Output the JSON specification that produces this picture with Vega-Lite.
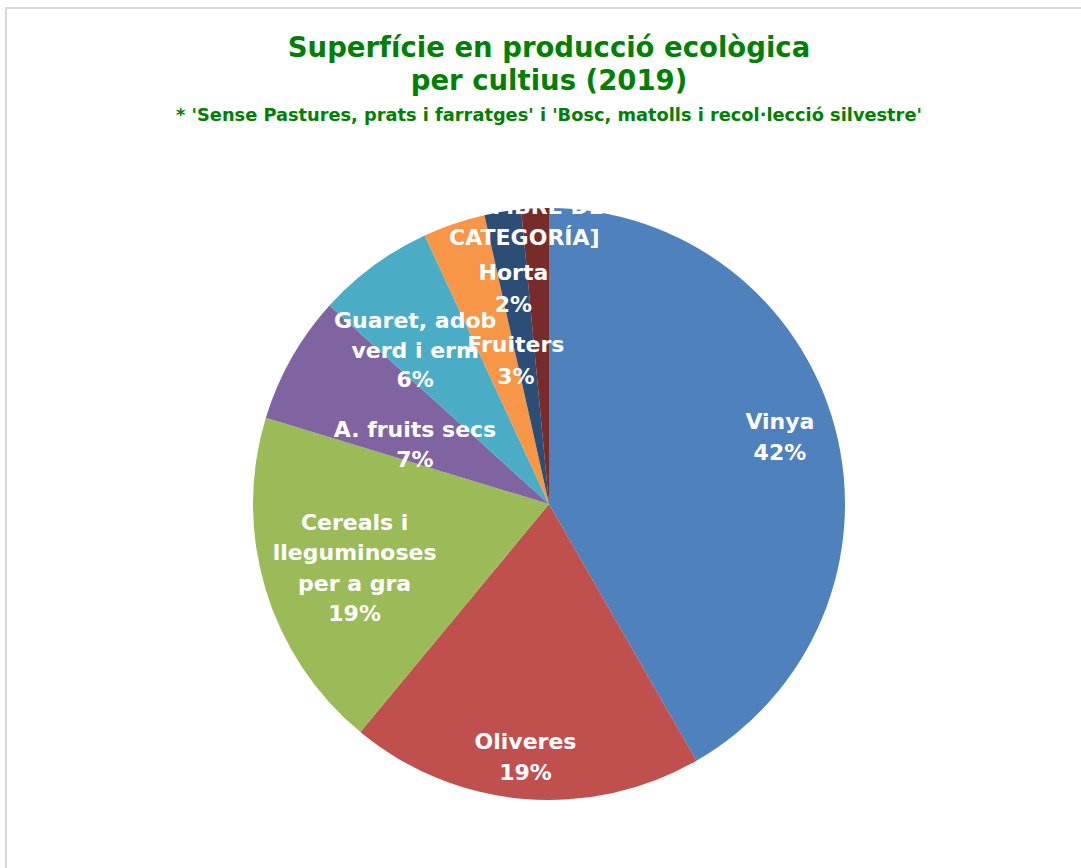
{
  "$schema": "https://vega.github.io/schema/vega-lite/v6.json",
  "autosize": {"type": "none"},
  "width": 1086,
  "height": 992,
  "padding": {"left": 6, "top": 8, "right": -11, "bottom": -132},
  "background": "white",
  "view": {"stroke": "#d9d9d9", "strokeWidth": 2, "fill": "white", "strokeDash": [1086, 2078, 992]},
  "title": {
    "text": ["Superfície en producció ecològica", "per cultius (2019)"],
    "subtitle": "* 'Sense Pastures, prats i farratges' i 'Bosc, matolls i recol·lecció silvestre'",
    "anchor": "middle",
    "font": "DejaVu Sans",
    "fontSize": 27.5,
    "fontWeight": "bold",
    "color": "#008000",
    "lineHeight": 33,
    "subtitleFont": "DejaVu Sans",
    "subtitleFontSize": 17.8,
    "subtitleFontWeight": "bold",
    "subtitleColor": "#008000",
    "subtitlePadding": 12,
    "offset": -117
  },
  "data": {
    "values": [
      {"i": 1, "cat": "Vinya", "label": "Vinya\n42%", "value": 41.7},
      {"i": 2, "cat": "Oliveres", "label": "Oliveres\n19%", "value": 19.3},
      {"i": 3, "cat": "Cereals i lleguminoses per a gra", "label": "Cereals i\nlleguminoses\nper a gra\n19%", "value": 18.7},
      {"i": 4, "cat": "A. fruits secs", "label": "A. fruits secs\n7%", "value": 7.0},
      {"i": 5, "cat": "Guaret, adob verd i erm", "label": "Guaret, adob\nverd i erm\n6%", "value": 6.4},
      {"i": 6, "cat": "Fruiters", "label": "Fruiters\n3%", "value": 3.4},
      {"i": 7, "cat": "Horta", "label": "Horta\n2%", "value": 2.0},
      {"i": 8, "cat": "Altres", "label": "[NOMBRE DE\nCATEGORÍA]", "value": 1.5}
    ]
  },
  "encoding": {
    "theta": {"field": "value", "type": "quantitative", "stack": true},
    "order": {"field": "i", "type": "quantitative"}
  },
  "layer": [
    {
      "mark": {"type": "arc", "outerRadius": 296},
      "encoding": {
        "color": {
          "field": "cat",
          "type": "nominal",
          "scale": {
            "domain": ["Vinya", "Oliveres", "Cereals i lleguminoses per a gra", "A. fruits secs", "Guaret, adob verd i erm", "Fruiters", "Horta", "Altres"],
            "range": ["#4F81BD", "#C0504D", "#9BBB59", "#8064A2", "#4BACC6", "#F79646", "#2C4D75", "#772C2A"]
          },
          "legend": null
        }
      }
    },
    {
      "mark": {"type": "text", "radius": 239, "dx": 0, "dy": -20, "font": "DejaVu Sans", "fontSize": 22, "fontWeight": "bold", "color": "white", "lineBreak": "\n", "lineHeight": 31, "baseline": "middle", "align": "center"},
      "encoding": {"detail": {"field": "cat", "type": "nominal"}, "text": {"condition": {"test": "datum.cat === 'Vinya'", "field": "label", "type": "nominal"}, "value": ""}}
    },
    {
      "mark": {"type": "text", "radius": 254, "dx": -2, "dy": -15.5, "font": "DejaVu Sans", "fontSize": 22, "fontWeight": "bold", "color": "white", "lineBreak": "\n", "lineHeight": 31, "baseline": "middle", "align": "center"},
      "encoding": {"detail": {"field": "cat", "type": "nominal"}, "text": {"condition": {"test": "datum.cat === 'Oliveres'", "field": "label", "type": "nominal"}, "value": ""}}
    },
    {
      "mark": {"type": "text", "radius": 204, "dx": 1, "dy": -40, "font": "DejaVu Sans", "fontSize": 22, "fontWeight": "bold", "color": "white", "lineBreak": "\n", "lineHeight": 30.5, "baseline": "middle", "align": "center"},
      "encoding": {"detail": {"field": "cat", "type": "nominal"}, "text": {"condition": {"test": "datum.cat === 'Cereals i lleguminoses per a gra'", "field": "label", "type": "nominal"}, "value": ""}}
    },
    {
      "mark": {"type": "text", "radius": 146, "dx": -7, "dy": -2.5, "font": "DejaVu Sans", "fontSize": 22, "fontWeight": "bold", "color": "white", "lineBreak": "\n", "lineHeight": 30, "baseline": "middle", "align": "center"},
      "encoding": {"detail": {"field": "cat", "type": "nominal"}, "text": {"condition": {"test": "datum.cat === 'A. fruits secs'", "field": "label", "type": "nominal"}, "value": ""}}
    },
    {
      "mark": {"type": "text", "radius": 203, "dx": -13.5, "dy": -19.5, "font": "DejaVu Sans", "fontSize": 22, "fontWeight": "bold", "color": "white", "lineBreak": "\n", "lineHeight": 29.5, "baseline": "middle", "align": "center"},
      "encoding": {"detail": {"field": "cat", "type": "nominal"}, "text": {"condition": {"test": "datum.cat === 'Guaret, adob verd i erm'", "field": "label", "type": "nominal"}, "value": ""}}
    },
    {
      "mark": {"type": "text", "radius": 147, "dx": 14, "dy": -19.5, "font": "DejaVu Sans", "fontSize": 22, "fontWeight": "bold", "color": "white", "lineBreak": "\n", "lineHeight": 32, "baseline": "middle", "align": "center"},
      "encoding": {"detail": {"field": "cat", "type": "nominal"}, "text": {"condition": {"test": "datum.cat === 'Fruiters'", "field": "label", "type": "nominal"}, "value": ""}}
    },
    {
      "mark": {"type": "text", "radius": 218, "dx": -1.5, "dy": -15.5, "font": "DejaVu Sans", "fontSize": 22, "fontWeight": "bold", "color": "white", "lineBreak": "\n", "lineHeight": 32, "baseline": "middle", "align": "center"},
      "encoding": {"detail": {"field": "cat", "type": "nominal"}, "text": {"condition": {"test": "datum.cat === 'Horta'", "field": "label", "type": "nominal"}, "value": ""}}
    },
    {
      "mark": {"type": "text", "radius": 279, "dx": -11.5, "dy": -18.5, "font": "DejaVu Sans", "fontSize": 22, "fontWeight": "bold", "color": "white", "lineBreak": "\n", "lineHeight": 31, "baseline": "middle", "align": "center"},
      "encoding": {"detail": {"field": "cat", "type": "nominal"}, "text": {"condition": {"test": "datum.cat === 'Altres'", "field": "label", "type": "nominal"}, "value": ""}}
    }
  ]
}
